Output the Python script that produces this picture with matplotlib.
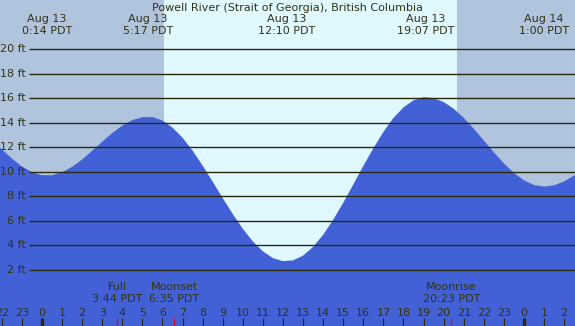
import matplotlib
matplotlib.use("Agg")
import matplotlib.pyplot as plt
import numpy as np

# ---- data (hours relative to Aug 13 00:00 PDT, heights in ft) ----
hours = [-2.5, -2.0, -1.5, -1.0, -0.5, 0.0, 0.5, 1.0, 1.5, 2.0, 2.5, 3.0, 3.5, 4.0, 4.5, 5.0,
         5.5, 6.0, 6.5, 7.0, 7.5, 8.0, 8.5, 9.0, 9.5, 10.0, 10.5, 11.0, 11.5, 12.0,
         12.5, 13.0, 13.5, 14.0, 14.5, 15.0, 15.5, 16.0, 16.5, 17.0, 17.5, 18.0, 18.5, 19.0,
         19.5, 20.0, 20.5, 21.0, 21.5, 22.0, 22.5, 23.0, 23.5, 24.0, 24.5, 25.0,
         25.5, 26.0, 26.5, 27.0]
heights = [12.61, 11.84, 11.09, 10.44, 9.97, 9.73, 9.73, 9.97, 10.41, 11.01, 11.72, 12.46, 13.17, 13.78, 14.22, 14.46,
           14.47, 14.19, 13.61, 12.78, 11.73, 10.51, 9.20, 7.86, 6.56, 5.36, 4.33, 3.52, 2.97, 2.72,
           2.78, 3.17, 3.88, 4.87, 6.09, 7.48, 8.97, 10.48, 11.93, 13.26, 14.40, 15.26, 15.84, 16.09,
           16.02, 15.70, 15.15, 14.41, 13.52, 12.56, 11.60, 10.69, 9.91, 9.31, 8.93, 8.80,
           8.91, 9.22, 9.71, 10.35]

event_hours = [0.233, 5.283, 12.167, 19.117, 25.0]
event_dates = ["Aug 13", "Aug 13", "Aug 13", "Aug 13", "Aug 14"]
event_times = ["0:14 PDT", "5:17 PDT", "12:10 PDT", "19:07 PDT", "1:00 PDT"]

moon_hours = [3.733, 6.583, 20.383]
moon_names = ["Full", "Moonset", "Moonrise"]
moon_times = ["3:44 PDT", "6:35 PDT", "20:23 PDT"]

sunrise = 6.06
sunset = 20.67

grid_levels = [2, 4, 6, 8, 10, 12, 14, 16, 18, 20]
tick_hours = list(range(-2, 27))
tick_labels = [str(h % 24) for h in tick_hours]

title = "Powell River (Strait of Georgia), British Columbia"

# ---- styles ----
night_c = "#B0C4DE"
day_c = "#E0F8FF"
water_c = "#4261D6"
text_c = "#333311"
line_c = "#2a2a0a"

X0, X1 = -2.09, 26.54
Y0, Y1 = -2.57, 24.02

fig = plt.figure(figsize=(5.75, 3.26), dpi=100)
ax = fig.add_axes([0, 0, 1, 1])
ax.set_xlim(X0, X1)
ax.set_ylim(Y0, Y1)
ax.axis("off")

ax.axvspan(X0, sunrise, color=night_c, zorder=0, lw=0)
ax.axvspan(sunrise, sunset, color=day_c, zorder=0, lw=0)
ax.axvspan(sunset, X1, color=night_c, zorder=0, lw=0)

ax.fill_between(hours, heights, Y0, color=water_c, lw=0, zorder=1)

grid_start = -0.647
ax.hlines(grid_levels, grid_start, X1, colors=line_c, lw=1.0, zorder=2)
fs = 8
for g in grid_levels:
    ax.text(-0.80, g, f"{g} ft", ha="right", va="center", color=text_c, fontsize=fs, zorder=3)

ax.text((X0 + X1) / 2, 23.37, title, ha="center", va="center", color=text_c, fontsize=fs)
for h, d, t in zip(event_hours, event_dates, event_times):
    ax.text(h, 22.47, d, ha="center", va="center", color=text_c, fontsize=fs)
    ax.text(h, 21.49, t, ha="center", va="center", color=text_c, fontsize=fs)

for h, n, t in zip(moon_hours, moon_names, moon_times):
    ax.text(h, 0.61, n, ha="center", va="center", color=text_c, fontsize=fs, zorder=3)
    ax.text(h, -0.37, t, ha="center", va="center", color=text_c, fontsize=fs, zorder=3)
    ax.vlines(h, -1.92, Y0, colors="red", lw=0.9, zorder=3)

for h, lab in zip(tick_hours, tick_labels):
    ax.text(h, -1.51, lab, ha="center", va="center", color=text_c, fontsize=fs, zorder=3)
    w = 2.4 if h % 24 == 0 else 0.8
    ax.vlines(h, -1.92, Y0, colors=line_c, lw=w, zorder=3)

fig.savefig("out.png", dpi=100)
